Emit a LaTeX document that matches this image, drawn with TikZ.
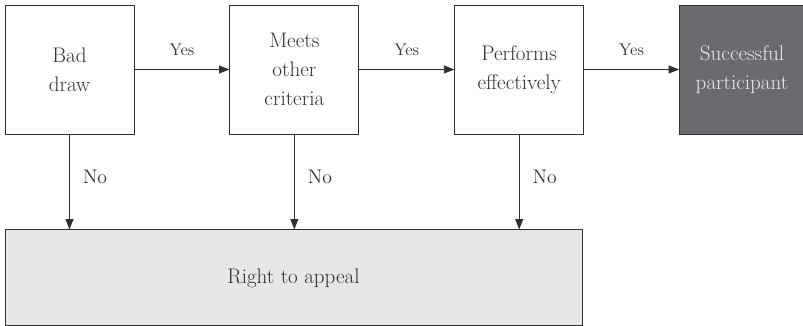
\documentclass[tikz,border=0pt]{standalone}
\usepackage{xcolor}
\usepackage{tikz}
\usetikzlibrary{positioning,arrows.meta}
\definecolor{boxline}{HTML}{2F2F2F}
\definecolor{darkfill}{HTML}{6A6B6F}
\definecolor{lightfill}{HTML}{E6E7E9}

\begin{document}
\begin{tikzpicture}[
        line width=0.6pt,>={Triangle[length=2.6mm,width=2mm]},
        node distance=2.375cm,
        step box/.style = {draw=boxline,minimum width=3.225cm,minimum height=3.225cm,align=center,
                           text=boxline,font=\fontsize{15}{20.5}\selectfont},
        end box/.style  = {step box,fill=darkfill,text=white!92!black,minimum width=3.125cm},
        appeal box/.style = {step box,fill=lightfill,minimum width=14.425cm,minimum height=2.4cm},
        yes/.style = {above=6.5pt,font=\fontsize{12}{14}\selectfont,text=boxline},
        no/.style  = {right=6pt,pos=.45,font=\fontsize{14}{16}\selectfont,text=boxline}
        ]
        \useasboundingbox (0,0) rectangle (20.075,-8.15);

        %Kette
        \node[step box] (bad) at (1.7375,-1.7375) {Bad\\draw};
        \node[step box,right=of bad] (meets) {Meets\\other\\criteria};
        \node[step box,right=of meets] (performs) {Performs\\effectively};
        \node[end box,right=of performs] (success) {Successful\\participant};

        %Berufung
        \node[appeal box,below=of bad.south west,anchor=north west] (appeal) {Right to appeal};

        %Ja
        \draw[->,draw=boxline] (bad) -- node[yes] {Yes} (meets);
        \draw[->,draw=boxline] (meets) -- node[yes] {Yes} (performs);
        \draw[->,draw=boxline] (performs) -- node[yes] {Yes} (success);

        %Nein
        \foreach \n in {bad,meets,performs}
        \draw[->,draw=boxline] (\n) -- node[no] {No} (\n |- appeal.north);

    \end{tikzpicture}
\end{document}
